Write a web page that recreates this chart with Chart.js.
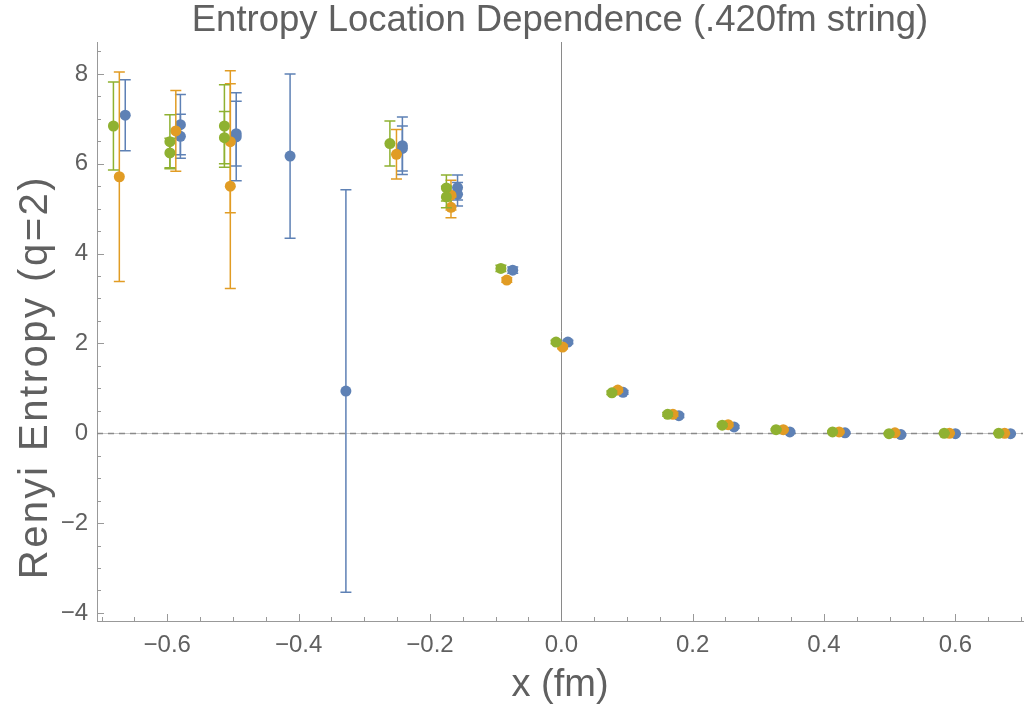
<!DOCTYPE html>
<html>
<head>
<meta charset="utf-8">
<script src="https://cdn.jsdelivr.net/npm/chart.js@4"></script>
<style>
  html, body { margin: 0; padding: 0; background: #ffffff; }
  #wrap { width: 1025px; height: 708px; position: relative; }
</style>
</head>
<body>
<div id="wrap"><canvas id="c" width="1025" height="708"></canvas></div>
<script>
// ---- Data ----
const titleText = "Entropy Location Dependence (.420fm string)";
const xTitle = "x (fm)";
const yTitle = "Renyi Entropy (q=2)";

const greenX = [-0.682, -0.596, -0.596, -0.513, -0.513, -0.261, -0.175, -0.175, -0.092, -0.008, 0.077, 0.162, 0.245, 0.327, 0.413, 0.499, 0.583, 0.666];
const greenY = [6.84, 6.49, 6.24, 6.84, 6.58, 6.45, 5.46, 5.26, 3.67, 2.03, 0.90, 0.42, 0.18, 0.08, 0.03, -0.01, 0.00, 0.00];
const greenErr = [0.98, 0.60, 0.33, 0.92, 0.58, 0.50, 0.29, 0.24, 0.07, 0.04, 0.04, 0.04, 0.03, 0.02, 0.02, 0.02, 0.01, 0.01];

const orangeX = [-0.673, -0.587, -0.504, -0.504, -0.251, -0.168, -0.168, -0.083, 0.002, 0.086, 0.170, 0.254, 0.338, 0.423, 0.508, 0.591, 0.675];
const orangeY = [5.71, 6.73, 6.49, 5.50, 6.21, 5.30, 5.03, 3.41, 1.92, 0.96, 0.42, 0.19, 0.08, 0.03, 0.01, 0.00, 0.00];
const orangeErr = [2.33, 0.90, 1.58, 2.28, 0.55, 0.33, 0.23, 0.05, 0.04, 0.04, 0.04, 0.03, 0.02, 0.02, 0.02, 0.01, 0.01];

const blueX = [-0.664, -0.580, -0.580, -0.495, -0.495, -0.413, -0.328, -0.242, -0.242, -0.158, -0.158, -0.074, 0.010, 0.094, 0.179, 0.263, 0.348, 0.432, 0.517, 0.600, 0.684];
const blueY = [7.08, 6.87, 6.61, 6.67, 6.60, 6.17, 0.94, 6.40, 6.34, 5.47, 5.32, 3.63, 2.03, 0.91, 0.39, 0.14, 0.03, 0.01, -0.03, -0.01, -0.01];
const blueErr = [0.79, 0.67, 0.49, 0.72, 0.98, 1.83, 4.48, 0.64, 0.50, 0.28, 0.26, 0.07, 0.04, 0.04, 0.04, 0.03, 0.02, 0.02, 0.02, 0.01, 0.01];

const xRange = [-0.707, 0.703];
const yRange = [-4.18, 8.71];
const xMajorStep = 0.2;
const yMajorStep = 2;

// ---- Styling ----
const FONT = "'Liberation Sans', Arial, Helvetica, sans-serif";
const TEXT = "#606060";
const COLORS = { blue: "#5E81B5", orange: "#E19C24", green: "#8FB131" };

function pts(xs, ys) { return xs.map((x, i) => ({ x: x, y: ys[i] })); }
function isMajor(v, step) { const r = v / step; return Math.abs(r - Math.round(r)) < 1e-6; }
function fmt(v, digits) {
  const s = Math.abs(v).toFixed(digits);
  return (v < -1e-9 ? "\u2212" : "") + s;
}

const errorBarPlugin = {
  id: "errorBars",
  beforeDatasetDraw(chart, args) {
    const ds = chart.data.datasets[args.index];
    if (!ds.errors) return;
    const xs = chart.scales.x, ys = chart.scales.y;
    const ctx = chart.ctx;
    const area = chart.chartArea;
    ctx.save();
    ctx.beginPath();
    ctx.rect(area.left, area.top, area.right - area.left, area.bottom - area.top);
    ctx.clip();
    ctx.strokeStyle = ds.backgroundColor;
    ctx.lineWidth = 1.5;
    const cap = 5.5;
    ds.data.forEach((p, i) => {
      const e = ds.errors[i];
      const px = xs.getPixelForValue(p.x);
      const yt = ys.getPixelForValue(p.y + e);
      const yb = ys.getPixelForValue(p.y - e);
      ctx.beginPath();
      ctx.moveTo(px, yt); ctx.lineTo(px, yb);
      ctx.moveTo(px - cap, yt); ctx.lineTo(px + cap, yt);
      ctx.moveTo(px - cap, yb); ctx.lineTo(px + cap, yb);
      ctx.stroke();
    });
    ctx.restore();
  }
};

const axesPlugin = {
  id: "axesDecor",
  beforeDatasetsDraw(chart) {
    const ctx = chart.ctx;
    const xs = chart.scales.x, ys = chart.scales.y;
    const a = chart.chartArea;
    ctx.save();
    // inward tick marks
    ctx.strokeStyle = "#999999";
    ctx.lineWidth = 1;
    xs.ticks.forEach(t => {
      const px = Math.round(xs.getPixelForValue(t.value)) + 0.5;
      const len = isMajor(t.value, xMajorStep) ? 7 : 4;
      ctx.beginPath(); ctx.moveTo(px, a.bottom); ctx.lineTo(px, a.bottom - len); ctx.stroke();
    });
    ys.ticks.forEach(t => {
      const py = Math.round(ys.getPixelForValue(t.value)) + 0.5;
      const len = isMajor(t.value, yMajorStep) ? 7 : 4;
      ctx.beginPath(); ctx.moveTo(a.left, py); ctx.lineTo(a.left + len, py); ctx.stroke();
    });
    // vertical line at x = 0
    const x0 = Math.round(xs.getPixelForValue(0)) + 0.5;
    ctx.strokeStyle = "#8a8a8a";
    ctx.beginPath(); ctx.moveTo(x0, a.top); ctx.lineTo(x0, a.bottom); ctx.stroke();
    // horizontal line at y = 0 (light solid + dashed overlay)
    const y0 = Math.round(ys.getPixelForValue(0)) + 0.5;
    ctx.strokeStyle = "#c8c8c8";
    ctx.beginPath(); ctx.moveTo(a.left, y0); ctx.lineTo(a.right, y0); ctx.stroke();
    ctx.strokeStyle = "#8a8a8a";
    ctx.lineWidth = 1.3;
    ctx.setLineDash([6, 5]);
    ctx.beginPath(); ctx.moveTo(a.left, y0); ctx.lineTo(a.right, y0); ctx.stroke();
    ctx.restore();
  }
};

// y-axis title drawn beside the y scale (slightly letter-spaced, as in the reference)
const yTitlePlugin = {
  id: "yTitle",
  afterDraw(chart) {
    const ctx = chart.ctx;
    const ys = chart.scales.y;
    ctx.save();
    ctx.fillStyle = TEXT;
    ctx.font = "40px " + FONT;
    if ("letterSpacing" in ctx) ctx.letterSpacing = "2.5px";
    ctx.textAlign = "center";
    ctx.textBaseline = "middle";
    const cy = ys.getPixelForValue(1.25);
    ctx.translate(ys.left + 36, cy);
    ctx.rotate(-Math.PI / 2);
    ctx.fillText(yTitle, 0, 0);
    ctx.restore();
  }
};

const ctx = document.getElementById("c").getContext("2d");
new Chart(ctx, {
  type: "scatter",
  data: {
    datasets: [
      { label: "green", data: pts(greenX, greenY), errors: greenErr, backgroundColor: COLORS.green },
      { label: "orange", data: pts(orangeX, orangeY), errors: orangeErr, backgroundColor: COLORS.orange },
      { label: "blue", data: pts(blueX, blueY), errors: blueErr, backgroundColor: COLORS.blue }
    ]
  },
  plugins: [errorBarPlugin, axesPlugin, yTitlePlugin],
  options: {
    responsive: false,
    animation: false,
    devicePixelRatio: 1,
    layout: { autoPadding: false, padding: { left: 0, right: 2, top: 0, bottom: 0 } },
    elements: { point: { radius: 5.5, hoverRadius: 5.5, borderWidth: 0, pointStyle: "circle" } },
    plugins: {
      legend: { display: false },
      tooltip: { enabled: false },
      title: {
        display: true,
        fullSize: false,
        text: titleText,
        color: TEXT,
        font: { family: FONT, size: 36.5, weight: "normal", lineHeight: 1.0 },
        padding: { top: 3, bottom: 2.5 }
      }
    },
    scales: {
      x: {
        type: "linear",
        min: xRange[0],
        max: xRange[1],
        afterFit(scale) { scale.height = 87; scale.paddingLeft = 0; scale.paddingRight = 0; },
        border: { display: true, color: "#999999", width: 1 },
        grid: { display: true, drawOnChartArea: false, drawTicks: false, color: "rgba(0,0,0,0)" },
        ticks: {
          stepSize: 0.05,
          includeBounds: false,
          autoSkip: false,
          maxRotation: 0,
          minRotation: 0,
          padding: 10,
          color: TEXT,
          font: { family: FONT, size: 24 },
          callback: (v) => isMajor(v, xMajorStep) ? fmt(v, 1) : ""
        },
        title: {
          display: true,
          text: xTitle,
          color: TEXT,
          font: { family: FONT, size: 38, lineHeight: 1.0 },
          padding: { top: 0, bottom: 3 }
        }
      },
      y: {
        type: "linear",
        min: yRange[0],
        max: yRange[1],
        afterFit(scale) { scale.width = 97; scale.paddingTop = 0; scale.paddingBottom = 0; },
        border: { display: true, color: "#999999", width: 1 },
        grid: { display: true, drawOnChartArea: false, drawTicks: false, color: "rgba(0,0,0,0)" },
        ticks: {
          stepSize: 0.5,
          includeBounds: false,
          autoSkip: false,
          padding: 9,
          color: TEXT,
          font: { family: FONT, size: 24 },
          callback: (v) => isMajor(v, yMajorStep) ? fmt(v, 0) : ""
        },
        title: { display: false, text: yTitle }
      }
    }
  }
});
</script>
</body>
</html>
